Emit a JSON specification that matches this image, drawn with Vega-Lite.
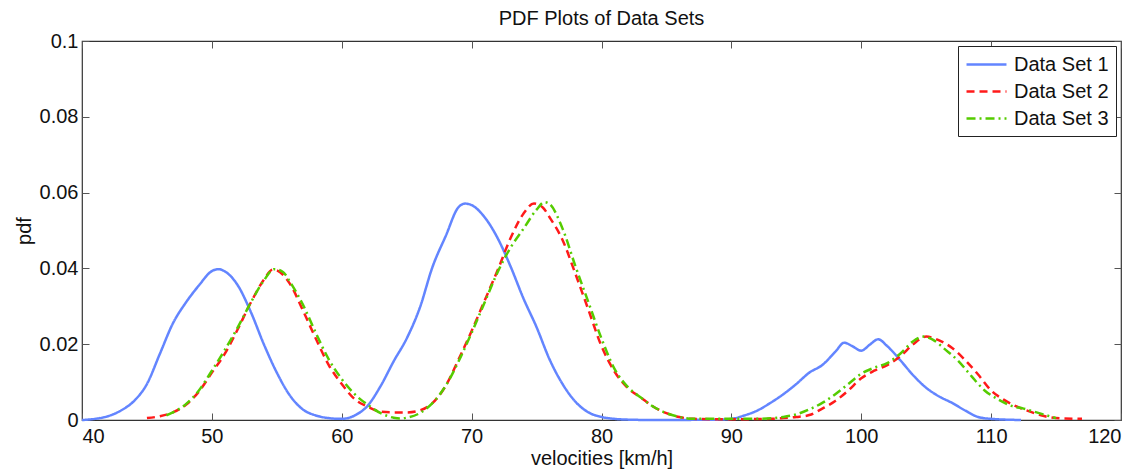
{
  "$schema": "https://vega.github.io/schema/vega-lite/v6.json",
  "width": 1039,
  "height": 379,
  "autosize": {"type": "none"},
  "padding": {"left": 82, "top": 41, "right": 26, "bottom": 54},
  "title": {"text": "PDF Plots of Data Sets", "fontSize": 20, "fontWeight": "normal", "font": "Liberation Sans", "color": "#111", "offset": 2},
  "datasets": {"pdfs": [
    {"v":40,"pdf":0,"set":"Data Set 1"},{"v":41,"pdf":0.0003,"set":"Data Set 1"},{"v":42,"pdf":0.001,"set":"Data Set 1"},{"v":43,"pdf":0.0025,"set":"Data Set 1"},{"v":44,"pdf":0.005,"set":"Data Set 1"},{"v":45,"pdf":0.0095,"set":"Data Set 1"},{"v":46,"pdf":0.0175,"set":"Data Set 1"},{"v":47,"pdf":0.0255,"set":"Data Set 1"},{"v":48,"pdf":0.031,"set":"Data Set 1"},{"v":49,"pdf":0.0355,"set":"Data Set 1"},{"v":50,"pdf":0.0393,"set":"Data Set 1"},{"v":50.5,"pdf":0.0398,"set":"Data Set 1"},{"v":51,"pdf":0.0392,"set":"Data Set 1"},{"v":52,"pdf":0.0355,"set":"Data Set 1"},{"v":53,"pdf":0.0285,"set":"Data Set 1"},{"v":54,"pdf":0.02,"set":"Data Set 1"},{"v":55,"pdf":0.0125,"set":"Data Set 1"},{"v":56,"pdf":0.0065,"set":"Data Set 1"},{"v":57,"pdf":0.0028,"set":"Data Set 1"},{"v":58,"pdf":0.0012,"set":"Data Set 1"},{"v":59,"pdf":0.0005,"set":"Data Set 1"},{"v":60,"pdf":0.0003,"set":"Data Set 1"},{"v":61,"pdf":0.0012,"set":"Data Set 1"},{"v":62,"pdf":0.0038,"set":"Data Set 1"},{"v":63,"pdf":0.009,"set":"Data Set 1"},{"v":64,"pdf":0.0155,"set":"Data Set 1"},{"v":65,"pdf":0.0215,"set":"Data Set 1"},{"v":66,"pdf":0.0295,"set":"Data Set 1"},{"v":67,"pdf":0.0405,"set":"Data Set 1"},{"v":68,"pdf":0.0485,"set":"Data Set 1"},{"v":69,"pdf":0.0562,"set":"Data Set 1"},{"v":69.5,"pdf":0.0571,"set":"Data Set 1"},{"v":70,"pdf":0.0567,"set":"Data Set 1"},{"v":71,"pdf":0.0535,"set":"Data Set 1"},{"v":72,"pdf":0.048,"set":"Data Set 1"},{"v":73,"pdf":0.0405,"set":"Data Set 1"},{"v":74,"pdf":0.032,"set":"Data Set 1"},{"v":75,"pdf":0.0245,"set":"Data Set 1"},{"v":76,"pdf":0.016,"set":"Data Set 1"},{"v":77,"pdf":0.0095,"set":"Data Set 1"},{"v":78,"pdf":0.0048,"set":"Data Set 1"},{"v":79,"pdf":0.002,"set":"Data Set 1"},{"v":80,"pdf":0.0008,"set":"Data Set 1"},{"v":81,"pdf":0.0003,"set":"Data Set 1"},{"v":82,"pdf":0.0001,"set":"Data Set 1"},{"v":84,"pdf":0,"set":"Data Set 1"},{"v":89,"pdf":0.0001,"set":"Data Set 1"},{"v":90,"pdf":0.0003,"set":"Data Set 1"},{"v":91,"pdf":0.0012,"set":"Data Set 1"},{"v":92,"pdf":0.0025,"set":"Data Set 1"},{"v":93,"pdf":0.0045,"set":"Data Set 1"},{"v":94,"pdf":0.0068,"set":"Data Set 1"},{"v":95,"pdf":0.0095,"set":"Data Set 1"},{"v":96,"pdf":0.0125,"set":"Data Set 1"},{"v":97,"pdf":0.0145,"set":"Data Set 1"},{"v":98,"pdf":0.018,"set":"Data Set 1"},{"v":98.7,"pdf":0.0204,"set":"Data Set 1"},{"v":99.3,"pdf":0.0195,"set":"Data Set 1"},{"v":100,"pdf":0.0183,"set":"Data Set 1"},{"v":100.7,"pdf":0.02,"set":"Data Set 1"},{"v":101.3,"pdf":0.0213,"set":"Data Set 1"},{"v":102,"pdf":0.0195,"set":"Data Set 1"},{"v":103,"pdf":0.0158,"set":"Data Set 1"},{"v":104,"pdf":0.0118,"set":"Data Set 1"},{"v":105,"pdf":0.0085,"set":"Data Set 1"},{"v":106,"pdf":0.0062,"set":"Data Set 1"},{"v":107,"pdf":0.0045,"set":"Data Set 1"},{"v":108,"pdf":0.0025,"set":"Data Set 1"},{"v":109,"pdf":0.0008,"set":"Data Set 1"},{"v":110,"pdf":0.0003,"set":"Data Set 1"},{"v":112.3,"pdf":0,"set":"Data Set 1"},

    {"v":45,"pdf":0.0005,"set":"Data Set 2"},{"v":46,"pdf":0.001,"set":"Data Set 2"},{"v":47,"pdf":0.002,"set":"Data Set 2"},{"v":48,"pdf":0.004,"set":"Data Set 2"},{"v":49,"pdf":0.0075,"set":"Data Set 2"},{"v":50,"pdf":0.0125,"set":"Data Set 2"},{"v":51,"pdf":0.0175,"set":"Data Set 2"},{"v":52,"pdf":0.024,"set":"Data Set 2"},{"v":53,"pdf":0.031,"set":"Data Set 2"},{"v":54,"pdf":0.037,"set":"Data Set 2"},{"v":54.7,"pdf":0.0397,"set":"Data Set 2"},{"v":55,"pdf":0.0395,"set":"Data Set 2"},{"v":56,"pdf":0.036,"set":"Data Set 2"},{"v":57,"pdf":0.029,"set":"Data Set 2"},{"v":58,"pdf":0.0215,"set":"Data Set 2"},{"v":59,"pdf":0.0145,"set":"Data Set 2"},{"v":60,"pdf":0.0095,"set":"Data Set 2"},{"v":61,"pdf":0.0055,"set":"Data Set 2"},{"v":62,"pdf":0.0035,"set":"Data Set 2"},{"v":63,"pdf":0.0022,"set":"Data Set 2"},{"v":64,"pdf":0.002,"set":"Data Set 2"},{"v":65,"pdf":0.002,"set":"Data Set 2"},{"v":66,"pdf":0.0025,"set":"Data Set 2"},{"v":67,"pdf":0.0045,"set":"Data Set 2"},{"v":68,"pdf":0.009,"set":"Data Set 2"},{"v":69,"pdf":0.016,"set":"Data Set 2"},{"v":70,"pdf":0.0235,"set":"Data Set 2"},{"v":71,"pdf":0.0315,"set":"Data Set 2"},{"v":72,"pdf":0.0395,"set":"Data Set 2"},{"v":73,"pdf":0.048,"set":"Data Set 2"},{"v":74,"pdf":0.0545,"set":"Data Set 2"},{"v":74.8,"pdf":0.0571,"set":"Data Set 2"},{"v":75.5,"pdf":0.056,"set":"Data Set 2"},{"v":76,"pdf":0.0535,"set":"Data Set 2"},{"v":77,"pdf":0.0475,"set":"Data Set 2"},{"v":78,"pdf":0.0385,"set":"Data Set 2"},{"v":79,"pdf":0.029,"set":"Data Set 2"},{"v":80,"pdf":0.0195,"set":"Data Set 2"},{"v":81,"pdf":0.0128,"set":"Data Set 2"},{"v":82,"pdf":0.0085,"set":"Data Set 2"},{"v":83,"pdf":0.006,"set":"Data Set 2"},{"v":84,"pdf":0.0035,"set":"Data Set 2"},{"v":85,"pdf":0.0018,"set":"Data Set 2"},{"v":86,"pdf":0.0008,"set":"Data Set 2"},{"v":87,"pdf":0.0003,"set":"Data Set 2"},{"v":90,"pdf":0.0002,"set":"Data Set 2"},{"v":93,"pdf":0.0003,"set":"Data Set 2"},{"v":94,"pdf":0.0005,"set":"Data Set 2"},{"v":95,"pdf":0.0008,"set":"Data Set 2"},{"v":96,"pdf":0.0013,"set":"Data Set 2"},{"v":97,"pdf":0.003,"set":"Data Set 2"},{"v":98,"pdf":0.005,"set":"Data Set 2"},{"v":99,"pdf":0.0078,"set":"Data Set 2"},{"v":100,"pdf":0.011,"set":"Data Set 2"},{"v":101,"pdf":0.013,"set":"Data Set 2"},{"v":102,"pdf":0.0145,"set":"Data Set 2"},{"v":103,"pdf":0.0168,"set":"Data Set 2"},{"v":104,"pdf":0.02,"set":"Data Set 2"},{"v":105,"pdf":0.022,"set":"Data Set 2"},{"v":106,"pdf":0.021,"set":"Data Set 2"},{"v":107,"pdf":0.019,"set":"Data Set 2"},{"v":108,"pdf":0.0158,"set":"Data Set 2"},{"v":109,"pdf":0.012,"set":"Data Set 2"},{"v":110,"pdf":0.0078,"set":"Data Set 2"},{"v":111,"pdf":0.0053,"set":"Data Set 2"},{"v":112,"pdf":0.0035,"set":"Data Set 2"},{"v":113,"pdf":0.0022,"set":"Data Set 2"},{"v":114,"pdf":0.0011,"set":"Data Set 2"},{"v":115,"pdf":0.0005,"set":"Data Set 2"},{"v":117,"pdf":0.0003,"set":"Data Set 2"},

    {"v":46.5,"pdf":0.0012,"set":"Data Set 3"},{"v":47,"pdf":0.002,"set":"Data Set 3"},{"v":48,"pdf":0.0042,"set":"Data Set 3"},{"v":49,"pdf":0.0078,"set":"Data Set 3"},{"v":50,"pdf":0.013,"set":"Data Set 3"},{"v":51,"pdf":0.0185,"set":"Data Set 3"},{"v":52,"pdf":0.0245,"set":"Data Set 3"},{"v":53,"pdf":0.031,"set":"Data Set 3"},{"v":54,"pdf":0.0368,"set":"Data Set 3"},{"v":54.8,"pdf":0.0398,"set":"Data Set 3"},{"v":55.5,"pdf":0.039,"set":"Data Set 3"},{"v":56,"pdf":0.0365,"set":"Data Set 3"},{"v":57,"pdf":0.0305,"set":"Data Set 3"},{"v":58,"pdf":0.023,"set":"Data Set 3"},{"v":59,"pdf":0.016,"set":"Data Set 3"},{"v":60,"pdf":0.0108,"set":"Data Set 3"},{"v":61,"pdf":0.0068,"set":"Data Set 3"},{"v":62,"pdf":0.004,"set":"Data Set 3"},{"v":63,"pdf":0.0018,"set":"Data Set 3"},{"v":64,"pdf":0.0006,"set":"Data Set 3"},{"v":64.5,"pdf":0.0004,"set":"Data Set 3"},{"v":65,"pdf":0.0006,"set":"Data Set 3"},{"v":66,"pdf":0.0018,"set":"Data Set 3"},{"v":67,"pdf":0.0045,"set":"Data Set 3"},{"v":68,"pdf":0.009,"set":"Data Set 3"},{"v":69,"pdf":0.0155,"set":"Data Set 3"},{"v":70,"pdf":0.023,"set":"Data Set 3"},{"v":71,"pdf":0.031,"set":"Data Set 3"},{"v":72,"pdf":0.039,"set":"Data Set 3"},{"v":73,"pdf":0.0455,"set":"Data Set 3"},{"v":74,"pdf":0.0505,"set":"Data Set 3"},{"v":75,"pdf":0.0555,"set":"Data Set 3"},{"v":75.6,"pdf":0.0575,"set":"Data Set 3"},{"v":76,"pdf":0.057,"set":"Data Set 3"},{"v":77,"pdf":0.0505,"set":"Data Set 3"},{"v":78,"pdf":0.0405,"set":"Data Set 3"},{"v":79,"pdf":0.031,"set":"Data Set 3"},{"v":80,"pdf":0.0215,"set":"Data Set 3"},{"v":81,"pdf":0.0135,"set":"Data Set 3"},{"v":82,"pdf":0.0088,"set":"Data Set 3"},{"v":83,"pdf":0.006,"set":"Data Set 3"},{"v":84,"pdf":0.0035,"set":"Data Set 3"},{"v":85,"pdf":0.0018,"set":"Data Set 3"},{"v":86,"pdf":0.0008,"set":"Data Set 3"},{"v":87,"pdf":0.0003,"set":"Data Set 3"},{"v":92,"pdf":0.0003,"set":"Data Set 3"},{"v":94,"pdf":0.0008,"set":"Data Set 3"},{"v":95,"pdf":0.0015,"set":"Data Set 3"},{"v":96,"pdf":0.0028,"set":"Data Set 3"},{"v":97,"pdf":0.0045,"set":"Data Set 3"},{"v":98,"pdf":0.0068,"set":"Data Set 3"},{"v":99,"pdf":0.0095,"set":"Data Set 3"},{"v":100,"pdf":0.0122,"set":"Data Set 3"},{"v":101,"pdf":0.0138,"set":"Data Set 3"},{"v":102,"pdf":0.015,"set":"Data Set 3"},{"v":103,"pdf":0.0175,"set":"Data Set 3"},{"v":104,"pdf":0.0208,"set":"Data Set 3"},{"v":104.8,"pdf":0.022,"set":"Data Set 3"},{"v":105.5,"pdf":0.0212,"set":"Data Set 3"},{"v":106.5,"pdf":0.0185,"set":"Data Set 3"},{"v":107.5,"pdf":0.0155,"set":"Data Set 3"},{"v":108.5,"pdf":0.0115,"set":"Data Set 3"},{"v":109.5,"pdf":0.0078,"set":"Data Set 3"},{"v":110.5,"pdf":0.0055,"set":"Data Set 3"},{"v":111.5,"pdf":0.0038,"set":"Data Set 3"},{"v":112.5,"pdf":0.003,"set":"Data Set 3"},{"v":113.5,"pdf":0.002,"set":"Data Set 3"},{"v":114.5,"pdf":0.001,"set":"Data Set 3"},{"v":115,"pdf":0.0005,"set":"Data Set 3"}
  ]},
  "data": {"name": "pdfs"},
  "layer": [
    {
      "mark": {"type": "line", "strokeWidth": 0, "opacity": 0},
      "encoding": {
        "x": {"field": "v", "type": "quantitative", "scale": {"domain": [40, 120], "nice": false},
          "axis": {"orient": "top", "values": [40,50,60,70,80,90,100,110,120], "labels": false, "title": null, "grid": false}},
        "y": {"field": "pdf", "type": "quantitative", "scale": {"domain": [0, 0.1], "nice": false},
          "axis": {"orient": "right", "values": [0,0.02,0.04,0.06,0.08,0.1], "labels": false, "title": null, "grid": false}}
      }
    },
    {
      "mark": {"type": "line", "strokeWidth": 2.5, "interpolate": "monotone"},
      "encoding": {
        "x": {"field": "v", "type": "quantitative", "scale": {"domain": [40, 120], "nice": false},
          "axis": {"orient": "bottom", "values": [40,50,60,70,80,90,100,110,120], "title": "velocities [km/h]", "titlePadding": 2}},
        "y": {"field": "pdf", "type": "quantitative", "scale": {"domain": [0, 0.1], "nice": false},
          "axis": {"orient": "left", "values": [0,0.02,0.04,0.06,0.08,0.1], "format": "~g", "title": "pdf", "titlePadding": 5}},
        "color": {"field": "set", "type": "nominal",
          "scale": {"domain": ["Data Set 1","Data Set 2","Data Set 3"], "range": ["#6385ff","#ff1a1a","#55cc00"]},
          "legend": {"title": null, "orient": "none", "legendX": 876, "legendY": 5, "symbolType": "M-1.95,0H1.95", "symbolSize": 420, "symbolStrokeWidth": 2.5, "symbolOffset": 10,
            "labelFontSize": 20, "labelFont": "Liberation Sans", "labelColor": "#111", "strokeColor": "#222", "fillColor": "white", "padding": 7, "rowPadding": 5, "labelOffset": 16, "cornerRadius": 0}},
        "strokeDash": {"field": "set", "type": "nominal",
          "scale": {"domain": ["Data Set 1","Data Set 2","Data Set 3"], "range": [[1,0],[8,5],[9,4,2,4]]},
          "legend": null}
      }
    }
  ],
  "config": {
    "background": "white",
    "view": {"stroke": "#333", "strokeWidth": 1.2},
    "axis": {"domain": false, "grid": true, "gridColor": "#999", "gridDash": [1,4], "gridOpacity": 0.8,
      "tickColor": "#555", "tickSize": -7, "tickWidth": 1,
      "labelFont": "Liberation Sans", "labelFontSize": 20, "labelColor": "#111",
      "titleFont": "Liberation Sans", "titleFontSize": 20, "titleFontWeight": "normal", "titleColor": "#111"},
    "axisX": {"labelPadding": 13},
    "axisY": {"labelPadding": 11}
  }
}
